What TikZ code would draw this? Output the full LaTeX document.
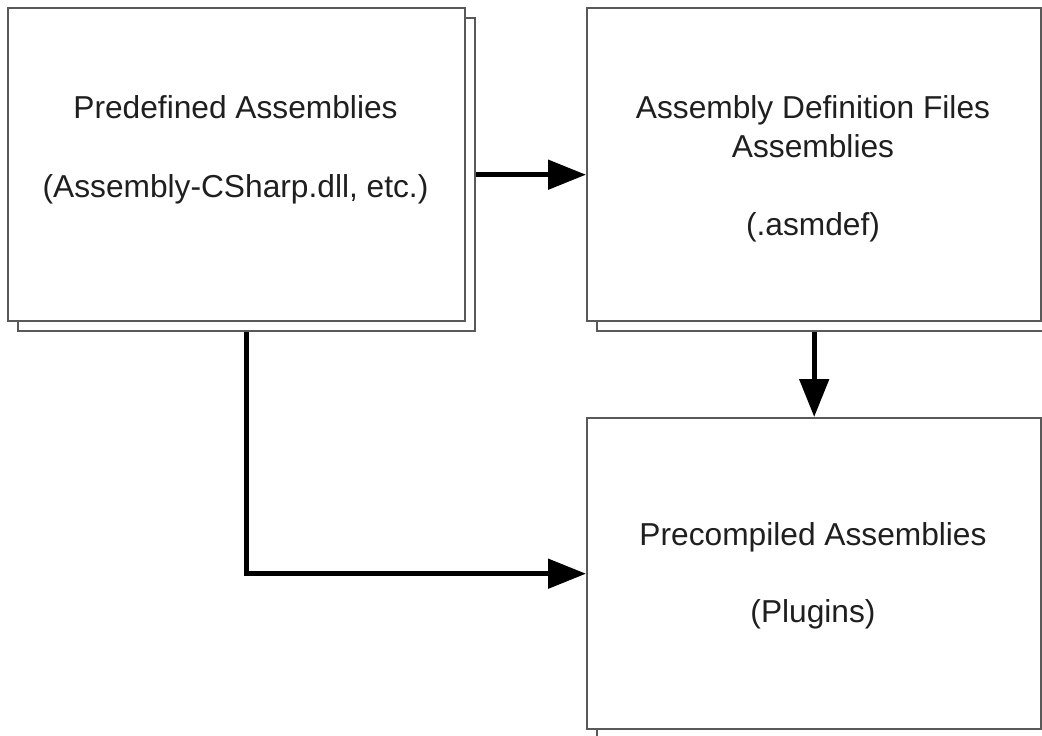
\documentclass[tikz,border=0pt]{standalone}
\usepackage{fontspec}
\setmainfont{Liberation Sans}
\usetikzlibrary{arrows.meta}
\definecolor{boxline}{HTML}{595959}
\definecolor{txt}{HTML}{1F1F1F}
\tikzset{
  box/.style={draw=boxline, line width=2.4pt, fill=white, rectangle, inner sep=0pt, anchor=north west},
  lbl/.style={anchor=base, inner sep=0pt, text=txt, font=\fontsize{31.7}{38}\selectfont},
  arr/.style={line width=5pt, draw=black, -{Triangle[length=38pt,width=29pt]}}
}
\begin{document}
\begin{tikzpicture}[x=1pt,y=-1pt]
\useasboundingbox (0,0) rectangle (1042,736);
% box 1
\node[box, minimum width=457pt, minimum height=313pt] (b1s) at (17,17) {};
\node[box, minimum width=457pt, minimum height=313pt] (b1) at (7,7) {};
% box 2
\node[box, minimum width=454pt, minimum height=313pt] (b2s) at (596,17) {};
\node[box, minimum width=454pt, minimum height=313pt] (b2) at (586,7) {};
% box 3
\node[box, minimum width=454pt, minimum height=311pt] (b3s) at (596,427) {};
\node[box, minimum width=454pt, minimum height=311pt] (b3) at (586,417) {};
% texts
\node[lbl] (t1a) at (235.5,118) {Predefined Assemblies};
\node[lbl] (t1b) at (235.5,197) {(Assembly-CSharp.dll, etc.)};
\node[lbl] (t2a) at (813,118) {Assembly Definition Files};
\node[lbl] (t2b) at (813,157) {Assemblies};
\node[lbl] (t2c) at (813,235) {(.asmdef)};
\node[lbl] (t3a) at (813,545) {Precompiled Assemblies};
\node[lbl] (t3b) at (813,622) {(Plugins)};
% connectors
\draw[arr] (b1s.east) -- (b1s.east -| b2.west);
\draw[arr] (b2.south |- b2s.south) -- (b3.north);
\draw[arr] (b1s.south) |- (b3.west);
\end{tikzpicture}
\end{document}
